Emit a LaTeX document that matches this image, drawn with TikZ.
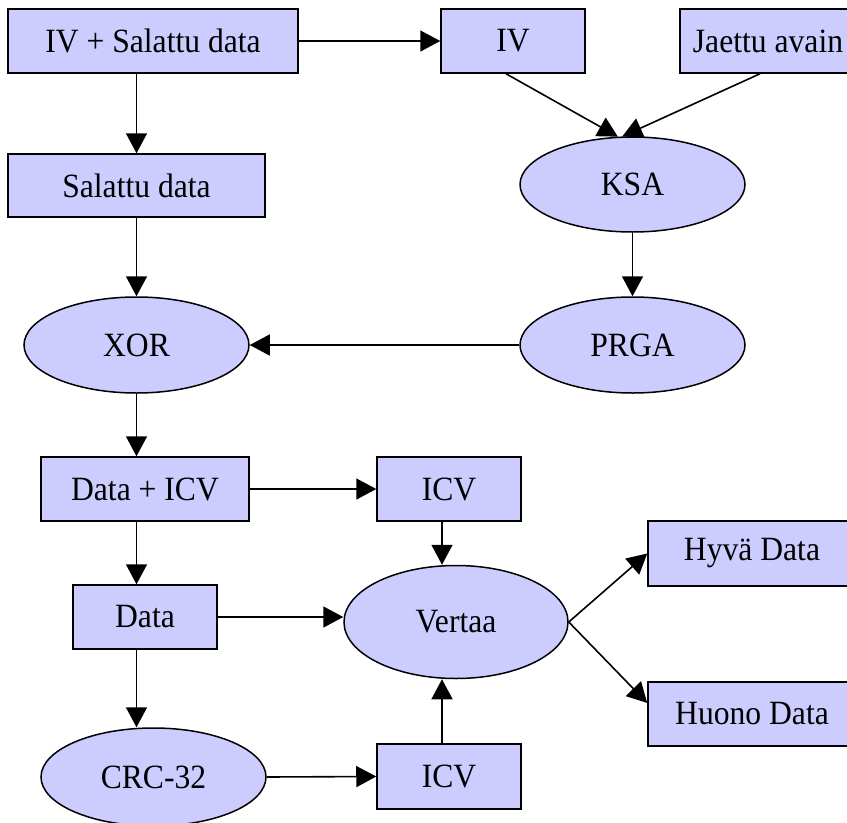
\documentclass[tikz,border=0pt]{standalone}
\usepackage{fontspec}
\setmainfont{Liberation Serif}[FakeStretch=0.93]
\usetikzlibrary{shapes.geometric,arrows.meta,calc}

\definecolor{boxfill}{RGB}{204,204,255}

\tikzset{
  base/.style={draw=black, fill=boxfill, line width=1.5bp, inner sep=0pt,
               font=\fontsize{34bp}{38bp}\selectfont},
  rbox/.style={base, rectangle},
  oval/.style={base, ellipse, minimum width=225bp, minimum height=96bp},
  arr/.style={line width=1.6bp, -{Triangle[length=20bp,width=21bp]}},
}

\begin{document}
\begin{tikzpicture}[x=1bp, y=-1bp]
  \useasboundingbox (0,0) rectangle (847,823);

  % top row: received frame, IV and shared key
  \node[rbox, minimum width=290bp, minimum height=64bp] (ivdata) at (153,41) {IV + Salattu data};
  \node[rbox, minimum width=144bp, minimum height=64bp] (iv) at (513,41) {IV};
  \node[rbox, minimum width=176bp, minimum height=64bp] (avain) at (768,41) {Jaettu avain};

  % key stream generation
  \node[rbox, minimum width=257bp, minimum height=63bp] (salattu) at (136.5,185.5) {Salattu data};
  \node[oval, minimum height=95bp] (ksa) at (632.5,184.5) {KSA};
  \node[oval] (xor) at (136.5,345) {XOR};
  \node[oval] (prga) at (632.5,345) {PRGA};

  % integrity check
  \node[rbox, minimum width=208bp, minimum height=64bp] (dataicv) at (145,489) {Data + ICV};
  \node[rbox, minimum width=144bp, minimum height=64bp] (icva) at (449,489) {ICV};
  \node[rbox, minimum width=144bp, minimum height=64bp] (data) at (145,617) {Data};
  \node[oval, minimum width=224bp, minimum height=113bp] (vertaa) at (456,622) {Vertaa};
  \node[oval, minimum height=98bp] (crc) at (153.5,777) {CRC-32};
  \node[rbox, minimum width=144bp, minimum height=65bp] (icvb) at (449,776.5) {ICV};
  \node[rbox, minimum width=208bp, minimum height=65bp] (hyva) at (752,553.5) {Hyvä Data};
  \node[rbox, minimum width=208bp, minimum height=64bp] (huono) at (752,714) {Huono Data};

  % connectors
  \draw[arr] (ivdata.east) -- (iv.west);
  \draw[arr] (salattu.north |- ivdata.south) -- (salattu.north);
  \draw[arr] ($(iv.south)+(-7,0)$) -- (ksa.107);
  \draw[arr] ($(avain.south)+(-8,0)$) -- (ksa.102);
  \draw[arr] (salattu.south) -- (xor.north);
  \draw[arr] (ksa.south) -- (prga.north);
  \draw[arr] (prga.west) -- (xor.east);
  \draw[arr] (xor.south) -- (xor.south |- dataicv.north);
  \draw[arr] (dataicv.east) -- (icva.west);
  \draw[arr] (xor.south |- dataicv.south) -- (xor.south |- data.north);
  \draw[arr] (data.east) -- (data.east -| vertaa.west);
  \draw[arr] (xor.south |- data.south) -- (xor.south |- crc.north);
  \draw[arr] (crc.east) -- (icvb.west);
  \coordinate (va) at ($(icva.south)+(-7,0)$);
  \draw[arr] (va) -- (va |- vertaa.north);
  \coordinate (vb) at ($(icvb.north)+(-7,0)$);
  \draw[arr] (vb) -- (vb |- vertaa.south);
  \draw[arr] (vertaa.east) -- (hyva.west);
  \draw[arr] (vertaa.east) -- ($(huono.west)+(0,-11)$);
\end{tikzpicture}
\end{document}
